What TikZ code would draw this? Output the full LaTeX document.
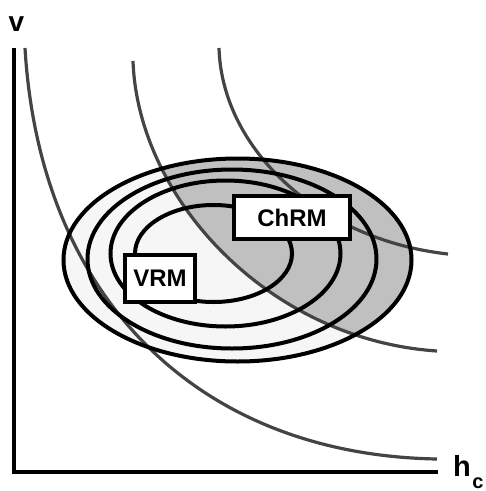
\documentclass[tikz,border=0pt]{standalone}
\usepackage{fontspec}
\setmainfont{Liberation Sans}
\usepackage{xcolor}
\usepackage{tikz}
\usetikzlibrary{positioning}
\definecolor{fondclair}{HTML}{F6F6F6}
\definecolor{fondfonce}{HTML}{C0C0C0}
\definecolor{courbe}{HTML}{444444}
\tikzset{
  isoligne/.style={courbe, line width=3.2pt},
  contour/.style={black, line width=4pt},
  etiquette/.style={draw=black, line width=4pt, fill=white, inner sep=0pt,
    font=\fontsize{24}{24}\selectfont\bfseries}
}
\begin{document}
\begin{tikzpicture}[x=1pt, y=-1pt]
        \useasboundingbox (0,0) rectangle (486,491);
        % Fond des ellipses
        \fill[fondclair] (237.5,260) ellipse [x radius=174pt, y radius=101.5pt];
        \begin{scope}
            \clip (237.5,260) ellipse [x radius=174pt, y radius=101.5pt];
            \fill[fondfonce] (133,61) .. controls (138,200) and (270,340) .. (437,351)
                -- (500,351) -- (500,0) -- (133,0) -- cycle;
        \end{scope}
        % Courbes
        \draw[isoligne] (25,48) .. controls (40,300) and (200,455) .. (437,459);
        \draw[isoligne] (133,61) .. controls (138,200) and (270,340) .. (437,351);
        \draw[isoligne] (219,48) .. controls (222,150) and (320,240) .. (448,254);
        % Ellipses
        \draw[contour] (237.5,260) ellipse [x radius=174pt, y radius=101.5pt];
        \draw[contour] (232,259) ellipse [x radius=144.5pt, y radius=89.5pt];
        \draw[contour] (225.5,253.5) ellipse [x radius=115pt, y radius=73pt];
        \draw[contour] (213.5,253.5) ellipse [x radius=78.5pt, y radius=48.5pt];
        % Axes
        \coordinate (O) at (14,472);
        \coordinate (haut) at (14,48);
        \coordinate (droite) at (438,472);
        \draw[black, line width=3.5pt] (haut) -- (O) -- (droite);
        % Etiquettes
        \node[etiquette, minimum width=70pt, minimum height=47pt] (vrm) at (160,278.5) {VRM};
        \node[etiquette, minimum width=116pt, minimum height=43pt] (chrm) at (292,217.5) {ChRM};
        \node[anchor=base west, inner sep=0pt, font=\fontsize{28}{28}\selectfont\bfseries] (v) at (8.5,31) {v};
        \node[anchor=base west, inner sep=0pt, font=\fontsize{29}{29}\selectfont\bfseries] (hc) at (453,476)
            {h\hspace{1.5pt}\raisebox{-12pt}{\fontsize{20}{20}\selectfont c}};
    \end{tikzpicture}
\end{document}
